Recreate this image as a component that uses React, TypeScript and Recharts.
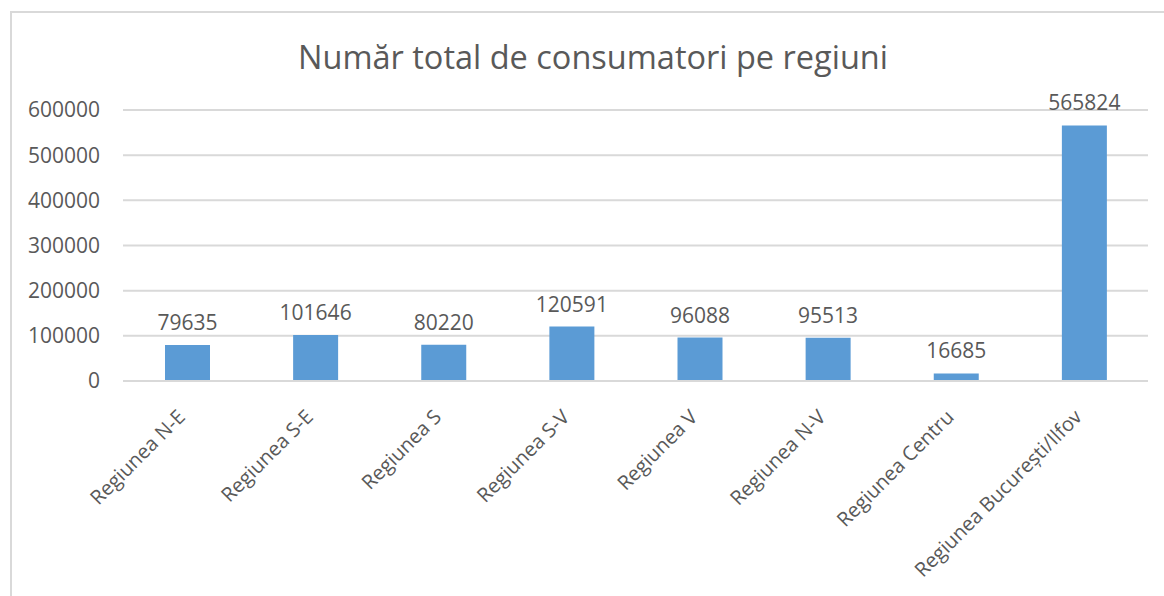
import React from 'react';
import { BarChart, Bar, XAxis, YAxis, CartesianGrid, LabelList } from 'recharts';

// Regions and consumer counts
const regions = [
  'Regiunea N-E',
  'Regiunea S-E',
  'Regiunea S',
  'Regiunea S-V',
  'Regiunea V',
  'Regiunea N-V',
  'Regiunea Centru',
  'Regiunea București/Ilfov',
];
const consumers = [79635, 101646, 80220, 120591, 96088, 95513, 16685, 565824];
const yTicks = [0, 100000, 200000, 300000, 400000, 500000, 600000];

const FONT = '"Open Sans", "Segoe UI", sans-serif';
const TEXT = '#595959';

const data = regions.map((name, i) => ({ name, value: consumers[i] }));

// Rotated category label
const RegionTick = ({ x, y, payload }: any) => (
  <g transform={`translate(${x - 5},${y + 25})`}>
    <text
      x={0}
      y={0}
      dy={6}
      textAnchor="end"
      transform="rotate(-45)"
      fill={TEXT}
      fontSize={20}
      fontFamily={FONT}
    >
      {payload.value}
    </text>
  </g>
);

export default function App() {
  return (
    <div
      style={{
        position: 'fixed',
        left: 0,
        top: 0,
        width: 1164,
        height: 596,
        background: '#fff',
        overflow: 'hidden',
      }}
    >
      <div
        style={{
          position: 'absolute',
          left: 10,
          top: 11,
          width: 1170,
          height: 620,
          border: '2px solid #D9D9D9',
        }}
      />
      <div
        style={{
          position: 'absolute',
          left: 0,
          top: 38,
          width: 1164,
          textAlign: 'center',
          fontFamily: FONT,
          fontSize: 32.5,
          color: TEXT,
          lineHeight: '38px',
          paddingLeft: 22,
          boxSizing: 'border-box',
        }}
      >
        Număr total de consumatori pe regiuni
      </div>
      <div style={{ position: 'absolute', left: 0, top: 0 }}>
        <BarChart
          width={1164}
          height={596}
          data={data}
          margin={{ top: 110, right: 16, bottom: 0, left: 0 }}
          barSize={45}
        >
          <CartesianGrid vertical={false} stroke="#D9D9D9" strokeWidth={2} />
          <XAxis
            dataKey="name"
            interval={0}
            axisLine={{ stroke: '#D9D9D9', strokeWidth: 2 }}
            tickLine={false}
            tick={<RegionTick />}
            height={215}
          />
          <YAxis
            width={123}
            domain={[0, 600000]}
            ticks={yTicks}
            axisLine={false}
            tickLine={false}
            tickSize={0}
            tickMargin={23}
            tick={{ fill: TEXT, fontSize: 21, fontFamily: FONT }}
          />
          <Bar dataKey="value" fill="#5B9BD5" isAnimationActive={false}>
            <LabelList
              dataKey="value"
              position="top"
              offset={15}
              fill={TEXT}
              fontSize={21}
              fontFamily={FONT}
            />
          </Bar>
        </BarChart>
      </div>
    </div>
  );
}
